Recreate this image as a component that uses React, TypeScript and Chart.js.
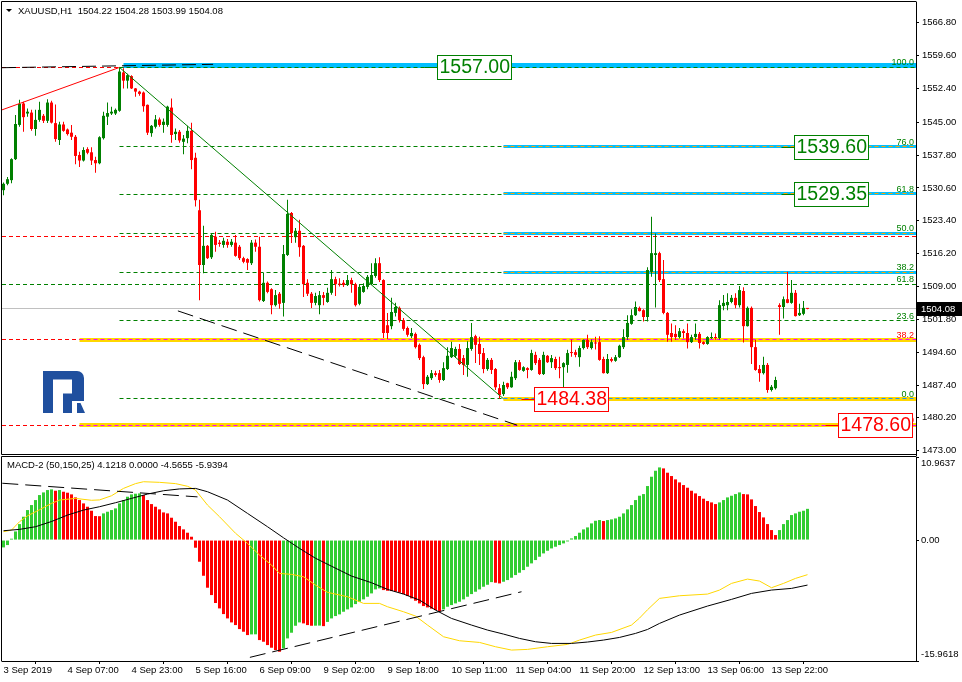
import React, { useEffect, useRef } from 'react';
import { Chart, registerables } from 'chart.js';

Chart.register(...registerables);

const FONT = '"Liberation Sans", Arial, sans-serif';

// ---------- price data (H1 candles, index 0 = 3 Sep 2019 ...) ----------
const OPEN = [
  1530.1, 1531.5, 1532.3, 1536.9, 1544.4, 1549.1, 1546.9, 1547.1, 1543.5, 1545.5,
  1546.4, 1545.3, 1549.3, 1544.8, 1541.1, 1544.5, 1543.4, 1542.7, 1541.8, 1537.8,
  1536.6, 1539.1, 1538.4, 1536.7, 1536.0, 1541.5, 1546.2, 1546.9, 1546.9, 1547.5,
  1555.9, 1554.1, 1555.1, 1552.4, 1551.7, 1551.5, 1548.8, 1542.6, 1544.0, 1545.6,
  1544.4, 1544.4, 1548.2, 1542.4, 1542.9, 1540.7, 1541.5, 1543.1, 1537.2, 1525.7,
  1513.7, 1517.9, 1515.4, 1519.9, 1518.6, 1518.1, 1518.8, 1518.1, 1518.6, 1517.7,
  1515.2, 1515.0, 1514.1, 1518.6, 1517.7, 1505.8, 1509.8, 1508.4, 1504.9, 1507.4,
  1505.4, 1515.9, 1525.1, 1519.8, 1521.2, 1517.9, 1509.8, 1507.4, 1505.4, 1504.9,
  1507.1, 1505.6, 1507.6, 1510.6, 1509.6, 1509.8, 1509.3, 1510.4, 1509.5, 1505.2,
  1507.8, 1508.9, 1509.5, 1511.3, 1514.1, 1510.4, 1500.5, 1500.3, 1503.2, 1504.3,
  1501.6, 1499.9, 1498.1, 1498.6, 1496.2, 1493.5, 1487.6, 1488.9, 1490.0, 1490.0,
  1488.5, 1490.9, 1493.5, 1493.8, 1495.3, 1493.3, 1491.8, 1495.3, 1498.1, 1496.4,
  1494.4, 1490.9, 1492.9, 1490.9, 1486.7, 1485.4, 1487.8, 1486.9, 1488.9, 1492.4,
  1490.5, 1491.1, 1490.7, 1494.0, 1492.9, 1489.8, 1493.8, 1492.4, 1493.1, 1491.3,
  1491.3, 1491.8, 1494.6, 1494.6, 1493.5, 1495.5, 1497.3, 1495.5, 1496.7, 1496.8,
  1493.1, 1490.0, 1493.1, 1492.7, 1493.5, 1495.7, 1497.9, 1500.8, 1502.7, 1504.3,
  1503.8, 1502.3, 1512.2, 1515.9, 1516.3, 1510.6, 1503.2, 1498.8, 1498.6, 1497.9,
  1499.2, 1498.8, 1496.8, 1497.9, 1498.6, 1496.8, 1496.4, 1497.7, 1497.9, 1497.7,
  1504.7, 1504.9, 1505.6, 1506.5, 1504.9, 1508.0, 1500.3, 1504.3, 1495.7, 1490.9,
  1490.0, 1491.8, 1486.3, 1486.7, 1504.9, 1504.5, 1506.2, 1505.4, 1507.6, 1502.7,
  1503.0, 1504.22,
];
const HIGH = [
  1531.8, 1533.0, 1537.1, 1546.6, 1549.9, 1549.5, 1548.0, 1547.7, 1547.7, 1549.5,
  1546.8, 1550.0, 1549.7, 1548.9, 1545.1, 1545.1, 1543.6, 1544.4, 1542.2, 1538.5,
  1539.5, 1539.5, 1539.5, 1537.4, 1541.9, 1547.3, 1549.3, 1548.4, 1548.0, 1557.0,
  1556.8, 1555.6, 1555.3, 1552.5, 1551.9, 1551.7, 1548.9, 1544.4, 1546.6, 1546.0,
  1545.8, 1548.6, 1550.2, 1543.6, 1543.3, 1542.2, 1544.2, 1544.9, 1538.3, 1528.0,
  1522.3, 1518.1, 1520.6, 1521.0, 1519.2, 1519.7, 1519.4, 1519.4, 1520.3, 1518.1,
  1515.5, 1515.2, 1519.2, 1519.3, 1519.9, 1512.0, 1510.1, 1508.6, 1508.2, 1507.8,
  1518.1, 1528.0, 1525.3, 1521.8, 1523.6, 1518.1, 1510.6, 1507.8, 1507.6, 1508.0,
  1507.8, 1508.7, 1512.6, 1511.1, 1510.8, 1510.4, 1511.5, 1510.9, 1509.8, 1509.3,
  1509.7, 1511.5, 1514.1, 1515.2, 1515.4, 1510.6, 1503.2, 1506.5, 1505.4, 1504.6,
  1502.1, 1500.2, 1499.9, 1498.9, 1496.5, 1493.8, 1489.6, 1490.7, 1490.5, 1490.7,
  1492.4, 1495.7, 1496.9, 1495.8, 1496.4, 1494.0, 1497.0, 1501.0, 1498.4, 1498.0,
  1495.5, 1493.3, 1493.3, 1491.1, 1487.6, 1488.1, 1487.9, 1490.3, 1492.9, 1492.9,
  1491.5, 1491.3, 1495.1, 1494.7, 1493.3, 1494.7, 1494.0, 1494.0, 1493.6, 1493.6,
  1492.4, 1495.1, 1497.4, 1495.1, 1496.0, 1497.4, 1498.4, 1497.4, 1498.0, 1498.1,
  1493.6, 1494.2, 1493.5, 1494.0, 1496.2, 1499.6, 1502.7, 1504.0, 1505.7, 1504.6,
  1504.0, 1513.2, 1524.3, 1520.6, 1516.6, 1514.8, 1503.4, 1500.9, 1500.5, 1499.9,
  1499.6, 1500.9, 1498.4, 1500.9, 1499.0, 1497.0, 1498.1, 1498.9, 1498.7, 1506.0,
  1507.1, 1507.5, 1507.1, 1507.5, 1509.1, 1508.8, 1504.6, 1504.6, 1497.3, 1491.8,
  1493.6, 1492.2, 1487.4, 1489.2, 1505.3, 1506.8, 1512.2, 1510.4, 1508.2, 1505.2,
  1505.8, 1504.28,
];
const LOW = [
  1529.0, 1531.2, 1531.6, 1536.7, 1544.0, 1542.9, 1546.2, 1543.1, 1542.0, 1545.1,
  1544.8, 1544.8, 1544.7, 1540.7, 1540.0, 1542.9, 1542.1, 1541.1, 1535.8, 1535.2,
  1536.4, 1538.0, 1535.6, 1533.9, 1535.8, 1541.2, 1544.4, 1546.6, 1546.6, 1547.3,
  1552.4, 1552.4, 1552.3, 1550.6, 1550.8, 1547.3, 1542.2, 1541.8, 1543.6, 1544.0,
  1542.7, 1544.0, 1540.5, 1541.1, 1540.5, 1538.0, 1540.4, 1534.7, 1526.5, 1506.0,
  1511.9, 1515.0, 1515.0, 1516.6, 1517.7, 1517.5, 1517.5, 1517.7, 1515.5, 1514.8,
  1514.1, 1512.6, 1513.7, 1516.6, 1505.7, 1505.6, 1507.5, 1502.9, 1504.6, 1504.1,
  1502.4, 1515.7, 1518.5, 1518.6, 1515.5, 1506.7, 1506.9, 1504.3, 1504.9, 1502.9,
  1504.9, 1505.4, 1507.2, 1506.9, 1509.0, 1508.9, 1509.1, 1507.6, 1504.6, 1504.9,
  1507.6, 1508.4, 1509.3, 1510.9, 1510.0, 1497.7, 1497.5, 1499.6, 1502.4, 1501.1,
  1499.3, 1498.0, 1497.7, 1495.4, 1492.9, 1486.5, 1487.4, 1488.5, 1489.2, 1487.9,
  1488.3, 1490.7, 1493.3, 1493.3, 1491.8, 1489.6, 1489.2, 1494.9, 1492.2, 1491.8,
  1490.0, 1490.5, 1489.8, 1486.3, 1484.38, 1485.0, 1486.5, 1486.8, 1488.5, 1490.5,
  1490.3, 1488.9, 1490.5, 1491.8, 1489.6, 1489.6, 1492.2, 1491.1, 1490.7, 1488.9,
  1486.7, 1490.1, 1493.6, 1493.5, 1491.4, 1495.2, 1495.3, 1495.2, 1495.2, 1492.7,
  1489.9, 1489.8, 1492.4, 1492.5, 1493.3, 1495.3, 1497.3, 1500.6, 1502.5, 1503.5,
  1501.3, 1501.3, 1511.1, 1504.4, 1510.0, 1502.9, 1496.9, 1496.9, 1497.3, 1497.6,
  1497.6, 1495.4, 1496.6, 1497.3, 1495.4, 1496.2, 1496.2, 1497.5, 1497.3, 1497.4,
  1503.8, 1503.8, 1505.3, 1504.2, 1504.4, 1496.7, 1500.2, 1492.0, 1490.5, 1488.1,
  1489.7, 1485.7, 1486.0, 1486.4, 1498.4, 1502.0, 1505.3, 1505.2, 1502.4, 1502.5,
  1502.7, 1503.99,
];
const CLOSE = [
  1531.5, 1532.5, 1536.9, 1544.6, 1549.0, 1546.1, 1547.3, 1543.5, 1545.5, 1547.7,
  1545.3, 1549.3, 1544.9, 1541.3, 1544.5, 1543.1, 1542.4, 1541.8, 1537.6, 1536.6,
  1538.9, 1538.3, 1536.6, 1536.0, 1541.7, 1546.4, 1547.0, 1547.3, 1547.7, 1556.1,
  1554.1, 1555.3, 1552.4, 1551.7, 1551.2, 1548.5, 1542.7, 1544.2, 1545.6, 1544.4,
  1545.1, 1548.4, 1542.2, 1542.9, 1541.0, 1541.4, 1543.1, 1536.7, 1527.9, 1513.7,
  1517.9, 1515.2, 1520.3, 1518.1, 1518.3, 1519.0, 1518.1, 1518.8, 1515.7, 1515.2,
  1514.4, 1514.2, 1518.6, 1517.7, 1506.0, 1509.8, 1507.8, 1504.9, 1507.1, 1505.2,
  1516.1, 1524.9, 1520.7, 1521.2, 1517.6, 1509.5, 1507.4, 1505.4, 1506.9, 1507.1,
  1506.5, 1507.6, 1510.6, 1509.5, 1509.4, 1509.3, 1510.4, 1509.5, 1504.9, 1508.9,
  1509.1, 1511.1, 1511.5, 1514.1, 1510.4, 1498.8, 1498.8, 1503.4, 1504.5, 1501.6,
  1499.7, 1498.4, 1498.8, 1495.7, 1493.3, 1487.6, 1489.2, 1490.0, 1489.6, 1488.5,
  1491.1, 1493.8, 1495.5, 1495.3, 1492.0, 1491.8, 1495.5, 1497.9, 1496.2, 1494.2,
  1490.9, 1492.9, 1490.7, 1486.9, 1485.2, 1487.4, 1486.9, 1489.2, 1492.4, 1490.7,
  1491.3, 1490.7, 1494.4, 1492.2, 1489.8, 1494.0, 1492.4, 1493.3, 1491.1, 1491.1,
  1492.2, 1494.4, 1494.4, 1494.0, 1495.5, 1497.3, 1495.7, 1496.8, 1496.5, 1492.9,
  1490.0, 1493.1, 1492.7, 1493.5, 1496.0, 1497.9, 1501.0, 1502.7, 1504.5, 1503.6,
  1502.3, 1512.6, 1516.3, 1516.3, 1510.4, 1503.2, 1498.4, 1497.9, 1497.9, 1499.2,
  1498.8, 1496.8, 1497.9, 1498.6, 1496.6, 1496.4, 1497.9, 1497.9, 1497.7, 1504.9,
  1505.4, 1505.6, 1506.5, 1504.9, 1508.2, 1500.3, 1504.3, 1495.7, 1490.7, 1490.0,
  1491.8, 1486.3, 1487.0, 1488.5, 1504.5, 1506.2, 1505.4, 1507.6, 1502.5, 1503.2,
  1504.3, 1504.08,
];

// ---------- MACD-2 (50,150,25) ----------
const HIST = [
  -0.97, -0.66, 0.18, 1.14, 2.11, 3.08, 3.96, 4.62, 5.28, 5.94,
  6.29, 6.60, 6.69, 6.51, 6.60, 6.38, 6.25, 6.03, 5.63, 5.28,
  4.84, 4.40, 3.87, 3.17, 3.15, 3.52, 3.74, 3.96, 4.18, 4.84,
  5.28, 5.72, 6.03, 6.12, 6.16, 5.94, 5.28, 4.75, 4.40, 4.05,
  3.65, 3.52, 2.95, 2.42, 1.85, 1.41, 0.97, 0.44, -1.01, -2.86,
  -4.71, -6.29, -7.26, -8.31, -9.02, -9.77, -10.34, -10.87, -11.22, -11.75,
  -12.10, -12.54, -12.45, -12.44, -13.20, -13.42, -13.86, -14.21, -14.52, -14.74,
  -14.30, -12.98, -12.23, -11.31, -10.87, -11.00, -11.22, -11.31, -11.30, -11.29,
  -11.36, -10.80, -10.34, -10.03, -9.81, -9.46, -9.15, -8.89, -8.45, -8.14,
  -7.83, -7.48, -7.04, -6.51, -6.38, -6.60, -6.69, -6.73, -6.82, -6.95,
  -7.13, -7.39, -7.70, -8.01, -8.36, -8.71, -8.89, -9.06, -9.24, -9.37,
  -9.15, -8.80, -8.58, -8.36, -8.14, -7.83, -7.48, -7.13, -6.82, -6.51,
  -6.16, -5.90, -5.55, -5.63, -5.72, -5.50, -5.28, -4.97, -4.62, -4.31,
  -3.96, -3.52, -3.08, -2.64, -2.20, -1.76, -1.41, -1.10, -0.88, -0.66,
  -0.44, -0.18, 0.22, 0.53, 0.97, 1.41, 1.67, 2.20, 2.55, 2.64,
  2.51, 2.64, 2.73, 2.86, 3.08, 3.52, 4.05, 4.62, 5.28, 5.85,
  6.07, 7.13, 8.36, 9.15, 9.59, 9.46, 8.89, 8.45, 8.01, 7.61,
  7.26, 6.91, 6.51, 6.16, 5.81, 5.46, 5.15, 4.97, 4.75, 4.97,
  5.28, 5.63, 5.85, 6.07, 6.29, 6.07, 6.03, 5.37, 4.49, 3.70,
  2.99, 2.11, 1.32, 0.66, 1.32, 2.11, 2.64, 3.30, 3.52, 3.74,
  3.87, 4.1218,
];
// black line (read at these bar indexes)
const MACD_AT = [0, 4, 8, 12, 16, 20, 24, 28, 32, 36, 40, 44, 48, 51, 56, 61, 66, 70, 74, 78, 82, 87, 92, 96, 100, 104, 108, 112, 117, 121, 125, 129, 133, 137, 142, 146, 150, 154, 158, 161, 164, 169, 176, 182, 187, 192, 197, 201];
const MACD_VAL = [1.23, 1.41, 1.76, 2.45, 3.30, 3.96, 4.40, 4.93, 5.50, 6.07, 6.51, 6.75, 6.82, 6.38, 5.28, 3.52, 1.76, 0.30, -1.10, -2.40, -3.45, -4.75, -5.63, -6.51, -7.13, -7.92, -9.24, -10.34, -11.22, -11.88, -12.41, -12.98, -13.42, -13.64, -13.64, -13.46, -13.20, -12.85, -12.32, -11.80, -11.00, -9.90, -8.71, -7.83, -7.04, -6.60, -6.38, -5.9394];
// yellow line
const SIGNAL_AT = [0, 2, 4, 6, 9, 12, 14, 18, 22, 24, 27, 30, 33, 35, 39, 43, 46, 48, 51, 54, 58, 61, 64, 67, 69, 72, 75, 78, 81, 86, 90, 94, 96, 100, 103, 106, 110, 114, 119, 123, 127, 131, 136, 141, 144, 148, 152, 157, 159, 161, 164, 169, 176, 179, 182, 186, 189, 192, 195, 198, 201];
const SIGNAL_VAL = [1.10, 1.32, 2.42, 3.20, 4.00, 4.84, 5.28, 5.50, 5.25, 5.30, 5.85, 6.82, 7.45, 7.70, 7.62, 7.45, 7.10, 6.60, 4.62, 3.08, 0.90, -0.44, -1.98, -3.30, -4.40, -4.53, -4.84, -5.94, -6.90, -7.48, -8.36, -8.36, -8.80, -9.46, -10.03, -11.22, -12.76, -13.29, -13.51, -14.08, -14.52, -14.43, -14.08, -13.77, -13.20, -12.54, -12.19, -11.22, -10.30, -9.20, -7.70, -7.35, -7.13, -6.60, -5.72, -5.15, -5.41, -6.29, -5.72, -5.06, -4.5655];

// ---------- axes ----------
const TIME_TICKS = [0, 16, 32, 48, 64, 80, 96, 112, 128, 144, 160, 176, 192];
const TIME_LABELS = ['3 Sep 2019', '4 Sep 07:00', '4 Sep 23:00', '5 Sep 16:00', '6 Sep 09:00', '9 Sep 02:00', '9 Sep 18:00', '10 Sep 11:00', '11 Sep 04:00', '11 Sep 20:00', '12 Sep 13:00', '13 Sep 06:00', '13 Sep 22:00'];
const PRICE_TICKS = [1566.8, 1559.6, 1552.4, 1545.0, 1537.8, 1530.6, 1523.4, 1516.2, 1509.0, 1501.8, 1494.6, 1487.4, 1480.2, 1473.0];
const PRICE_MIN = 1472.06;
const PRICE_MAX = 1571.34;
const MACD_TICKS = [10.9637, 0, -15.9618];
const MACD_TICK_LABELS = ['10.9637', '0.00', '-15.9618'];
const X_MIN = -0.375;
const X_MAX = 228.125;

// ---------- chart objects ----------
const FIB_TEXT = ['100.0', '76.0', '61.8', '50.0', '38.2', '23.6', '0.0'];
const FIB_PRICES = [1557.0, 1539.57, 1529.26, 1520.69, 1512.12, 1501.52, 1484.38];
const FIB_START = 29;
const BLUE_PRICES = [1557.35, 1539.6, 1529.35, 1520.69, 1512.12];
const BLUE_START = [30, 125, 125, 125, 125];
const GOLD_PRICES = [1497.37, 1484.38, 1478.6];
const GOLD_START = [19, 125, 19];
const RED_LEVEL_PRICES = [1557.0, 1520.05, 1497.37, 1478.6];
const RED_LEVEL_TEXT = ['', '', '38.2', '0.0'];
const GREEN2_PRICE = 1509.47;
const GREEN2_TEXT = '61.8';
const CURRENT_PRICE = 1504.08;
const BOX_PRICES = [1557.0, 1539.6, 1529.35, 1484.38, 1478.6];
const BOX_AT = [108.4, 197.7, 197.7, 132.6, 208.7];
const BOX_UP = [true, true, true, false, false];

const RED_TREND = { x: [-0.375, 29], y: [1547.7, 1557.0] };
const GREEN_TREND = { x: [29, 125], y: [1557.0, 1484.38] };
const BLACK_TREND_TOP = { x: [-0.375, 52.4], y: [1556.94, 1557.68] };
const BLACK_TREND_LOW = { x: [43.6, 128.4], y: [1503.64, 1478.6] };
const MACD_TREND_1 = { x: [-0.3, 48.5], y: [7.5, 5.7] };
const MACD_TREND_2 = { x: [61.6, 129.5], y: [-15.48, -6.82] };

const C_GREEN = '#008000';
const C_RED = '#ff0000';

function pts(t: { x: number[]; y: number[] }) {
  return t.x.map((x, k) => ({ x, y: t.y[k] }));
}

function hl(ctx: any, a: any, xs: any, ys: any, price: number, from: number | null, color: string, width: number, dash: number[]) {
  const y = ys.getPixelForValue(price);
  const yy = width % 2 === 1 ? Math.round(y - 0.5) + 0.5 : Math.round(y);
  const x1 = from == null ? a.left : xs.getPixelForValue(from);
  ctx.save();
  ctx.beginPath();
  ctx.strokeStyle = color;
  ctx.lineWidth = width;
  ctx.setLineDash(dash);
  ctx.moveTo(x1, yy);
  ctx.lineTo(a.right, yy);
  ctx.stroke();
  ctx.restore();
}

function drawLogo(ctx: any) {
  ctx.save();
  ctx.fillStyle = '#1f4f9e';
  ctx.beginPath();
  ctx.moveTo(43, 371);
  ctx.lineTo(77, 371);
  ctx.arcTo(84, 371, 84, 378, 7);
  ctx.lineTo(84, 401);
  ctx.lineTo(43, 401);
  ctx.closePath();
  ctx.fill();
  ctx.fillStyle = '#ffffff';
  ctx.fillRect(53, 379.5, 19, 14);
  ctx.fillRect(53, 393, 10, 8);
  ctx.fillStyle = '#1f4f9e';
  ctx.fillRect(43, 400, 10, 13);
  ctx.fillRect(63, 400, 9, 13);
  ctx.beginPath();
  ctx.moveTo(77, 403);
  ctx.lineTo(80.5, 403);
  ctx.lineTo(85, 413);
  ctx.lineTo(77, 413);
  ctx.closePath();
  ctx.fill();
  ctx.restore();
}

const mainPlugin = {
  id: 'mt4main',
  beforeDatasetsDraw(chart: any) {
    const { ctx, chartArea: a } = chart;
    const xs = chart.scales.x;
    const ys = chart.scales.y;
    ctx.save();
    ctx.beginPath();
    ctx.rect(a.left, a.top, a.right - a.left, a.bottom - a.top);
    ctx.clip();
    drawLogo(ctx);
    hl(ctx, a, xs, ys, CURRENT_PRICE, null, '#c0c0c0', 1, []);
    RED_LEVEL_PRICES.forEach((p) => hl(ctx, a, xs, ys, p, null, C_RED, 1, [4, 3]));
    hl(ctx, a, xs, ys, GREEN2_PRICE, null, C_GREEN, 1, [4, 3]);
    FIB_PRICES.forEach((p) => hl(ctx, a, xs, ys, p, FIB_START, C_GREEN, 1, [4, 3]));
    BLUE_PRICES.forEach((p, k) => hl(ctx, a, xs, ys, p, BLUE_START[k], '#00bfff', k === 0 ? 5 : 3, []));
    BLUE_PRICES.forEach((p, k) => { if (k > 0) hl(ctx, a, xs, ys, p, BLUE_START[k], '#ffa500', 1, [4, 3]); });
    hl(ctx, a, xs, ys, FIB_PRICES[0], FIB_START, C_GREEN, 1, [4, 3]);
    GOLD_PRICES.forEach((p, k) => hl(ctx, a, xs, ys, p, GOLD_START[k], '#ffd700', 4, []));
    GOLD_PRICES.forEach((p, k) => hl(ctx, a, xs, ys, p, GOLD_START[k], k === 1 ? '#1e90ff' : '#ff00ff', 1, [4, 3]));
    ctx.restore();
  },
  afterDatasetsDraw(chart: any) {
    const { ctx, chartArea: a } = chart;
    const xs = chart.scales.x;
    const ys = chart.scales.y;
    ctx.save();
    ctx.font = `9px ${FONT}`;
    ctx.textAlign = 'right';
    ctx.textBaseline = 'alphabetic';
    ctx.fillStyle = C_GREEN;
    FIB_PRICES.forEach((p, k) => ctx.fillText(FIB_TEXT[k], a.right - 2, Math.round(ys.getPixelForValue(p)) - 2));
    ctx.fillText(GREEN2_TEXT, a.right - 2, Math.round(ys.getPixelForValue(GREEN2_PRICE)) - 2);
    ctx.fillStyle = C_RED;
    RED_LEVEL_PRICES.forEach((p, k) => { if (RED_LEVEL_TEXT[k]) ctx.fillText(RED_LEVEL_TEXT[k], a.right - 2, Math.round(ys.getPixelForValue(p)) - 2); });

    ctx.font = `19.5px ${FONT}`;
    BOX_PRICES.forEach((p, k) => {
      const color = BOX_UP[k] ? C_GREEN : C_RED;
      const txt = p.toFixed(2);
      const w = Math.round(ctx.measureText(txt).width) + 4;
      const left = Math.round(xs.getPixelForValue(BOX_AT[k])) + 0.5;
      const cy = Math.round(ys.getPixelForValue(p));
      const top = cy - 12 + 0.5;
      ctx.strokeStyle = color;
      ctx.lineWidth = 1;
      ctx.setLineDash([]);
      ctx.beginPath();
      ctx.moveTo(left - 13, cy + 0.5);
      ctx.lineTo(left, cy + 0.5);
      ctx.stroke();
      ctx.fillStyle = '#ffffff';
      ctx.fillRect(left, top, w, 24);
      ctx.strokeRect(left, top, w, 24);
      ctx.fillStyle = color;
      ctx.textAlign = 'left';
      ctx.textBaseline = 'middle';
      ctx.fillText(txt, left + 2, cy + 1);
    });
    ctx.restore();
  },
  afterDraw(chart: any) {
    const { ctx, chartArea: a } = chart;
    const ys = chart.scales.y;
    ctx.save();
    ctx.strokeStyle = '#000';
    ctx.lineWidth = 1;
    ctx.setLineDash([]);
    ctx.beginPath();
    ctx.moveTo(1.5, a.bottom - 0.5);
    ctx.lineTo(1.5, 1.5);
    ctx.lineTo(a.right + 0.5, 1.5);
    ctx.moveTo(1.5, a.bottom - 0.5);
    ctx.lineTo(a.right + 0.5, a.bottom - 0.5);
    ctx.stroke();
    // header
    ctx.fillStyle = '#000';
    ctx.beginPath();
    ctx.moveTo(6, 9);
    ctx.lineTo(12, 9);
    ctx.lineTo(9, 12);
    ctx.closePath();
    ctx.fill();
    const last = OPEN.length - 1;
    ctx.font = `9.5px ${FONT}`;
    ctx.textAlign = 'left';
    ctx.textBaseline = 'middle';
    ctx.fillText(`XAUUSD,H1  ${OPEN[last].toFixed(2)} ${HIGH[last].toFixed(2)} ${LOW[last].toFixed(2)} ${CLOSE[last].toFixed(2)}`, 18, 11);
    // current price tag
    const cy = Math.round(ys.getPixelForValue(CLOSE[last]));
    ctx.fillStyle = '#000';
    ctx.fillRect(a.right + 1, cy - 7, 45, 14);
    ctx.fillStyle = '#fff';
    ctx.fillText(CLOSE[last].toFixed(2), a.right + 5, cy + 0.5);
    ctx.restore();
  },
};

const macdPlugin = {
  id: 'mt4macd',
  afterDraw(chart: any) {
    const { ctx, chartArea: a } = chart;
    const ys = chart.scales.y;
    ctx.save();
    ctx.strokeStyle = '#000';
    ctx.lineWidth = 1;
    ctx.beginPath();
    ctx.moveTo(1.5, a.bottom + 0.5);
    ctx.lineTo(1.5, 0.5);
    ctx.lineTo(a.right + 0.5, 0.5);
    ctx.stroke();
    ctx.fillStyle = '#000';
    ctx.font = `9.5px ${FONT}`;
    ctx.textAlign = 'left';
    ctx.textBaseline = 'middle';
    const h = HIST[HIST.length - 1];
    const s = SIGNAL_VAL[SIGNAL_VAL.length - 1];
    const m = MACD_VAL[MACD_VAL.length - 1];
    ctx.fillText(`MACD-2 (50,150,25) ${h.toFixed(4)} ${(0).toFixed(4)} ${s.toFixed(4)} ${m.toFixed(4)}`, 7, 9);
    MACD_TICKS.forEach((v, k) => {
      let y = ys.getPixelForValue(v);
      y = Math.min(Math.max(y, a.top + 6), a.bottom - 7);
      ctx.fillText(MACD_TICK_LABELS[k], a.right + 5, y);
    });
    ctx.restore();
  },
};

function mainConfig(): any {
  const colors = OPEN.map((o, i) => (CLOSE[i] >= o ? C_GREEN : C_RED));
  return {
    type: 'bar',
    data: {
      datasets: [
        { type: 'line', data: pts(GREEN_TREND), borderColor: C_GREEN, borderWidth: 1, pointRadius: 0, order: 0 },
        { type: 'line', data: pts(RED_TREND), borderColor: C_RED, borderWidth: 1, pointRadius: 0, order: 0 },
        { type: 'line', data: pts(BLACK_TREND_TOP), borderColor: '#000', borderWidth: 1, borderDash: [14, 6], pointRadius: 0, order: 0 },
        { type: 'line', data: pts(BLACK_TREND_LOW), borderColor: '#000', borderWidth: 1, borderDash: [16, 7], pointRadius: 0, order: 0 },
        {
          type: 'bar', data: OPEN.map((o, i) => ({ x: i, y: [o, CLOSE[i]] })), backgroundColor: colors,
          barThickness: 3, minBarLength: 1, grouped: false, inflateAmount: 0, borderWidth: 0, order: 1,
        },
        {
          type: 'bar', data: LOW.map((l, i) => ({ x: i, y: [l, HIGH[i]] })), backgroundColor: colors,
          barThickness: 1, grouped: false, inflateAmount: 0, borderWidth: 0, order: 2,
        },
      ],
    },
    options: {
      responsive: false,
      animation: false,
      devicePixelRatio: 1,
      events: [],
      layout: { padding: { left: 2, top: 2, right: 0, bottom: 1 } },
      plugins: { legend: { display: false }, tooltip: { enabled: false } },
      scales: {
        x: { type: 'linear', min: X_MIN, max: X_MAX, offset: false, display: false },
        y: {
          type: 'linear', position: 'right', min: PRICE_MIN, max: PRICE_MAX,
          afterBuildTicks: (s: any) => { s.ticks = PRICE_TICKS.map((v) => ({ value: v })); },
          afterFit: (s: any) => { s.width = 46; s.paddingTop = 0; s.paddingBottom = 0; },
          ticks: { autoSkip: false, padding: 3, color: '#000', font: { family: FONT, size: 9.5 }, callback: (v: any) => Number(v).toFixed(2) },
          grid: { display: true, drawOnChartArea: false, drawTicks: true, tickLength: 3, color: '#000' },
          border: { display: true, color: '#000' },
        },
      },
    },
    plugins: [mainPlugin],
  };
}

function macdConfig(): any {
  const hColors = HIST.map((v, i) => (i === 0 || v >= HIST[i - 1] ? '#32cd32' : '#ff0000'));
  return {
    type: 'bar',
    data: {
      datasets: [
        { type: 'line', data: MACD_AT.map((x, k) => ({ x, y: MACD_VAL[k] })), borderColor: '#000', borderWidth: 1, pointRadius: 0, order: 0 },
        { type: 'line', data: SIGNAL_AT.map((x, k) => ({ x, y: SIGNAL_VAL[k] })), borderColor: '#ffd700', borderWidth: 1, pointRadius: 0, order: 1 },
        { type: 'line', data: pts(MACD_TREND_1), borderColor: '#000', borderWidth: 1, borderDash: [16, 7], pointRadius: 0, order: 0 },
        { type: 'line', data: pts(MACD_TREND_2), borderColor: '#000', borderWidth: 1, borderDash: [16, 7], pointRadius: 0, order: 0 },
        {
          type: 'bar', data: HIST.map((v, i) => ({ x: i, y: v })), backgroundColor: hColors,
          barThickness: 3, grouped: false, inflateAmount: 0, borderWidth: 0, order: 3,
        },
      ],
    },
    options: {
      responsive: false,
      animation: false,
      devicePixelRatio: 1,
      events: [],
      layout: { padding: { left: 2, top: 1, right: 0, bottom: 0 } },
      plugins: { legend: { display: false }, tooltip: { enabled: false } },
      scales: {
        x: {
          type: 'linear', min: X_MIN, max: X_MAX, offset: false, position: 'bottom',
          afterBuildTicks: (s: any) => { s.ticks = TIME_TICKS.map((v) => ({ value: v })); },
          afterFit: (s: any) => { s.height = 21; s.paddingLeft = 0; s.paddingRight = 0; },
          ticks: {
            autoSkip: false, maxRotation: 0, minRotation: 0, align: 'start', padding: 1, color: '#000',
            font: { family: FONT, size: 9.5 }, callback: (_v: any, i: number) => TIME_LABELS[i],
          },
          grid: { display: true, drawOnChartArea: false, drawTicks: true, tickLength: 3, color: '#000' },
          border: { display: true, color: '#000' },
        },
        y: {
          type: 'linear', position: 'right', min: MACD_TICKS[2], max: MACD_TICKS[0],
          afterBuildTicks: (s: any) => { s.ticks = MACD_TICKS.map((v) => ({ value: v })); },
          afterFit: (s: any) => { s.width = 46; s.paddingTop = 0; s.paddingBottom = 0; },
          ticks: { display: false },
          grid: { display: true, drawOnChartArea: false, drawTicks: true, tickLength: 3, color: '#000' },
          border: { display: true, color: '#000' },
        },
      },
    },
    plugins: [macdPlugin],
  };
}

export default function App() {
  const mainRef = useRef<HTMLCanvasElement | null>(null);
  const macdRef = useRef<HTMLCanvasElement | null>(null);
  useEffect(() => {
    document.body.style.margin = '0';
    document.body.style.background = '#ffffff';
    const c1 = new Chart(mainRef.current as HTMLCanvasElement, mainConfig());
    const c2 = new Chart(macdRef.current as HTMLCanvasElement, macdConfig());
    return () => {
      c1.destroy();
      c2.destroy();
    };
  }, []);
  return (
    <div style={{ position: 'relative', width: 962, height: 682, background: '#ffffff', overflow: 'hidden' }}>
      <canvas ref={mainRef} width={962} height={456} style={{ position: 'absolute', left: 0, top: 0, width: 962, height: 456 }} />
      <canvas ref={macdRef} width={962} height={226} style={{ position: 'absolute', left: 0, top: 456, width: 962, height: 226 }} />
    </div>
  );
}
